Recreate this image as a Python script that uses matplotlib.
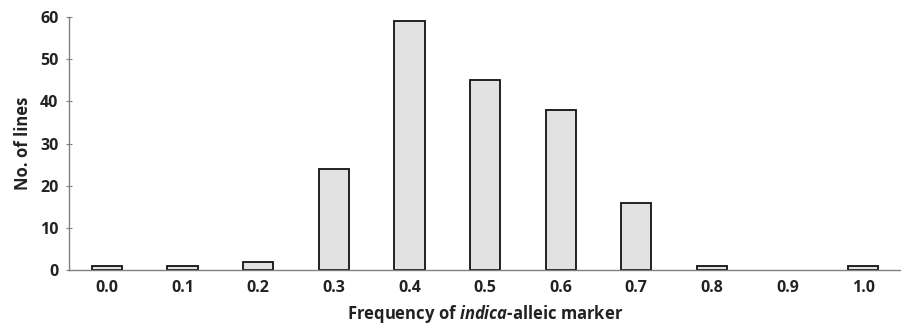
import matplotlib
matplotlib.use("Agg")
import matplotlib.pyplot as plt
import numpy as np

# data
freq_labels = ["0.0", "0.1", "0.2", "0.3", "0.4", "0.5", "0.6", "0.7", "0.8", "0.9", "1.0"]
n_lines = [1, 1, 2, 24, 59, 45, 38, 16, 1, 0, 1]

plt.rcParams['font.family'] = ['Open Sans', 'DejaVu Sans']
plt.rcParams['mathtext.fontset'] = 'custom'
plt.rcParams['mathtext.it'] = 'Open Sans:italic:bold'
plt.rcParams['mathtext.rm'] = 'Open Sans:bold'
txt = '#222222'

fig = plt.figure(figsize=(9.01, 3.23), dpi=100)
ax = fig.add_axes([0.0766, 0.164, 0.9234, 0.783])

x = np.arange(len(freq_labels))
# empty classes get no outline
lw = [1.3 if v > 0 else 0 for v in n_lines]
ax.bar(x, n_lines, width=0.4, color='#e2e2e2', edgecolor='#111111', linewidth=lw)

ax.set_xlim(-0.5, 10.5)
ax.set_ylim(0, 60)
ax.set_yticks([0, 10, 20, 30, 40, 50, 60])
ax.set_xticks(x)
ax.set_xticklabels(freq_labels)

for s in ['top', 'right']:
    ax.spines[s].set_visible(False)
for s in ['left', 'bottom']:
    ax.spines[s].set_color('#808080')
    ax.spines[s].set_linewidth(1.0)

ax.tick_params(axis='x', length=0, pad=7, labelsize=11.5, labelcolor=txt)
ax.tick_params(axis='y', length=5, direction='inout', color='#808080', pad=5,
               labelsize=11.5, labelcolor=txt)
for lab in ax.get_xticklabels() + ax.get_yticklabels():
    lab.set_fontweight('bold')

ax.set_ylabel("No. of lines", fontsize=12, fontweight='bold', color=txt, labelpad=6)
ax.set_xlabel("Frequency of $indica$-alleic marker", fontsize=12,
              fontweight='bold', color=txt, labelpad=5)

fig.savefig("out.png", dpi=100)
